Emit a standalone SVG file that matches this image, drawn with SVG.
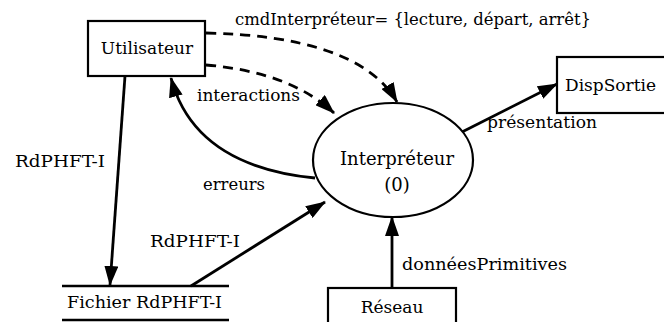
<svg xmlns="http://www.w3.org/2000/svg" width="664" height="322" viewBox="0 0 664 322">
<defs>
<style>
.box{fill:#fff;stroke:#000;stroke-width:2.2}
.t{font-family:"DejaVu Serif","Liberation Serif",serif;font-size:17px;fill:#000}
.c{fill:none;stroke:#000;stroke-width:2.8}
.d{fill:none;stroke:#000;stroke-width:2.8;stroke-dasharray:10 7}
</style>
<marker id="ah" viewBox="0 0 20 14" refX="19" refY="7" markerWidth="20" markerHeight="14" markerUnits="userSpaceOnUse" orient="auto">
<path d="M0,0 L20,7 L0,14 z" fill="#000"/>
</marker>
</defs>
<rect width="664" height="322" fill="#fff"/>
<g id="connectors">
<path class="c" d="M125,76 L110,285" marker-end="url(#ah)"/>
<path class="c" d="M191,286 L325,202" marker-end="url(#ah)"/>
<path class="c" d="M315,178 C255,172 190,150 171,78" marker-end="url(#ah)"/>
<path class="d" d="M206,65 Q290,72 334,113" marker-end="url(#ah)"/>
<path class="d" d="M206,33 C300,35 370,55 397,102" marker-end="url(#ah)"/>
<path class="c" d="M462,132 L557,84" marker-end="url(#ah)"/>
<path class="c" d="M392,290 L392,217" marker-end="url(#ah)"/>
<text class="t" x="235" y="25" textLength="356" lengthAdjust="spacingAndGlyphs">cmdInterpréteur= {lecture, départ, arrêt}</text>
<text class="t" x="197" y="101" textLength="103" lengthAdjust="spacingAndGlyphs">interactions</text>
<text class="t" x="15" y="167" textLength="90" lengthAdjust="spacingAndGlyphs">RdPHFT-I</text>
<text class="t" x="203" y="190" textLength="62" lengthAdjust="spacingAndGlyphs">erreurs</text>
<text class="t" x="150" y="247" textLength="90" lengthAdjust="spacingAndGlyphs">RdPHFT-I</text>
<text class="t" x="402" y="270" textLength="165" lengthAdjust="spacingAndGlyphs">donnéesPrimitives</text>
<text class="t" x="487" y="128" textLength="110" lengthAdjust="spacingAndGlyphs">présentation</text>
</g>
<g id="utilisateur">
<rect class="box" x="88" y="21" width="117" height="55"/>
<text class="t" x="147" y="54" text-anchor="middle">Utilisateur</text>
</g>
<g id="interpreteur">
<ellipse class="box" cx="393" cy="160" rx="80" ry="57"/>
<text class="t" x="397" y="165" text-anchor="middle" style="font-size:18px">Interpréteur</text>
<text class="t" x="397" y="191" text-anchor="middle" style="font-size:18px">(0)</text>
</g>
<g id="dispsortie">
<rect class="box" x="557" y="57" width="120" height="56"/>
<text class="t" x="565" y="91">DispSortie</text>
</g>
<g id="reseau">
<rect class="box" x="328" y="288" width="128" height="50"/>
<text class="t" x="392" y="313" text-anchor="middle">Réseau</text>
</g>
<g id="fichier">
<line x1="62" y1="286" x2="229" y2="286" stroke="#000" stroke-width="2.5"/>
<line x1="62" y1="320" x2="229" y2="320" stroke="#000" stroke-width="2.5"/>
<text class="t" x="67" y="308" textLength="155" lengthAdjust="spacingAndGlyphs">Fichier RdPHFT-I</text>
</g>
</svg>
